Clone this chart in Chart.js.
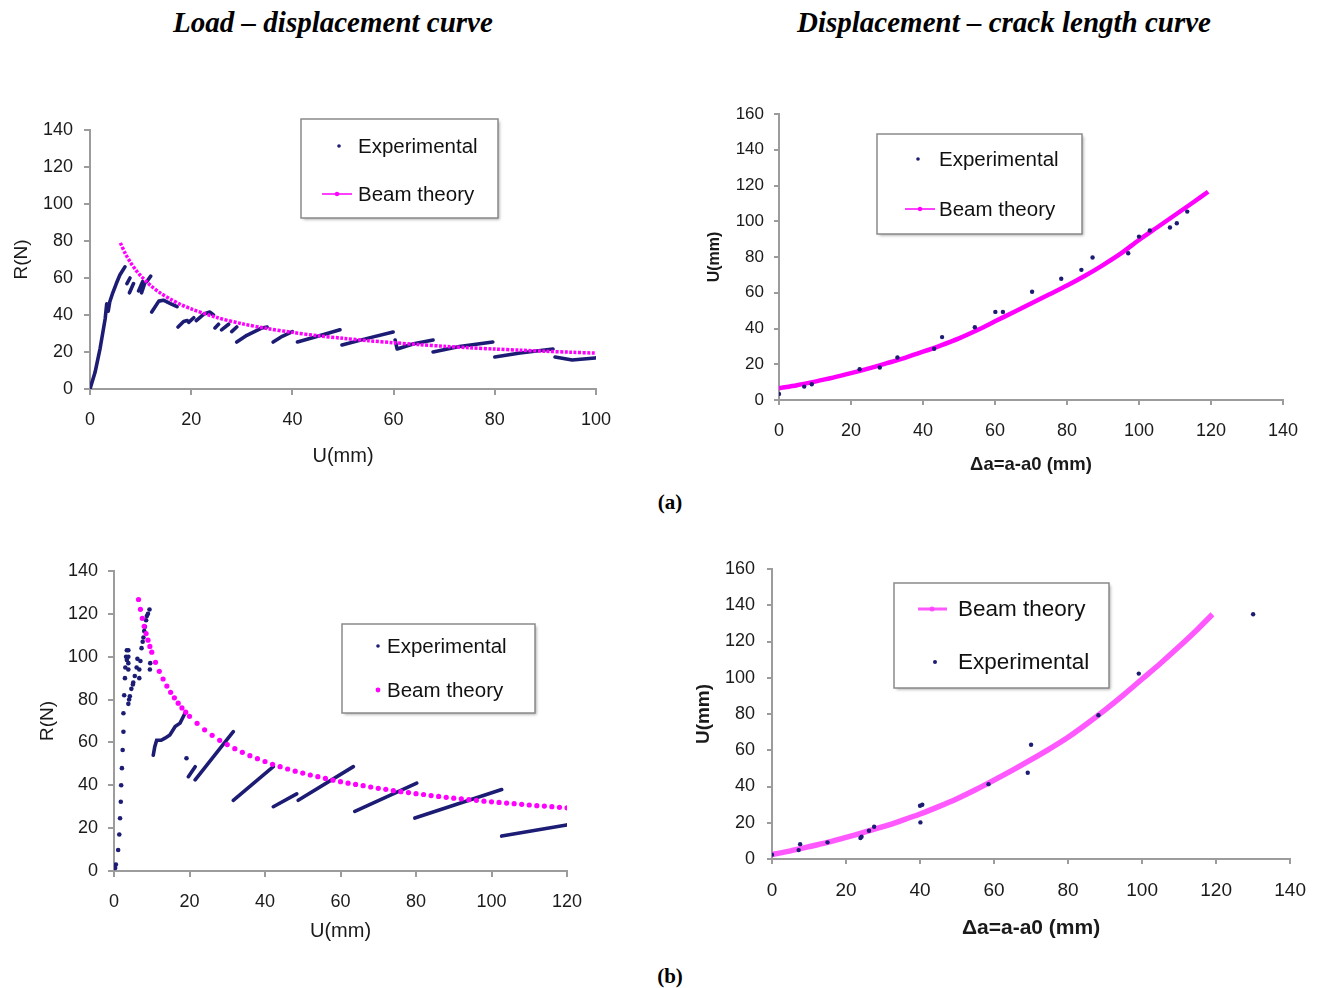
<!DOCTYPE html>
<html><head><meta charset="utf-8">
<script src="https://cdn.jsdelivr.net/npm/chart.js@4.4.1/dist/chart.umd.min.js"></script>
<style>
html,body{margin:0;padding:0;background:#fff;}
#page{position:relative;width:1321px;height:988px;overflow:hidden;background:#fff;}
canvas{position:absolute;}
.ttl{position:absolute;font-family:"Liberation Serif",serif;font-weight:bold;font-style:italic;font-size:29px;white-space:nowrap;transform:translate(-50%,-50%);color:#000;}
.lab{position:absolute;font-family:"Liberation Serif",serif;font-weight:bold;font-size:21px;white-space:nowrap;transform:translate(-50%,-50%);color:#000;}
</style></head>
<body><div id="page">
<div class="ttl" style="left:333px;top:22px">Load – displacement curve</div>
<div class="ttl" style="left:1004px;top:22px">Displacement – crack length curve</div>
<div class="lab" style="left:670px;top:502px">(a)</div>
<div class="lab" style="left:670px;top:976px">(b)</div>
<canvas id="aL" width="650" height="390" style="left:0px;top:95px;width:650px;height:390px"></canvas>
<canvas id="aR" width="641" height="410" style="left:680px;top:80px;width:641px;height:410px"></canvas>
<canvas id="bL" width="650" height="430" style="left:0px;top:530px;width:650px;height:430px"></canvas>
<canvas id="bR" width="651" height="430" style="left:670px;top:530px;width:651px;height:430px"></canvas>
</div>
<script>
// ---------- DATA ----------
// (a) left: load R(N) vs displacement U(mm)
const aL_xTicks = [0, 20, 40, 60, 80, 100];
const aL_yTicks = [0, 20, 40, 60, 80, 100, 120, 140];
const aL_expU = [0,1,2,3,3.3,3.6,3.9,4.5,5.2,5.9,6.9, null,
  7.3,7.9, null, 7.8,8.6, null, 9.6,10.4, null, 10.2,10.8, null, 11.2,12.0, null,
  12.2,13.6,14.5,16.0,17.2, null,
  17.4,18.5,19.2, null, 19.5,20.5, null, 21.0,22.5,23.7,24.4, null,
  24.7,25.4, null, 26.0,27.4, null, 28.0,29.0, null,
  29.0,31.0,34.0,35.0, null,
  36.2,38.0,40.0, null,
  41.0,45.0,49.4, null,
  49.8,55.0,59.9, null,
  60.3,60.7,64.0,67.8, null,
  67.8,73.0,79.6, null,
  80.0,85.0,91.5, null,
  91.9,95.3,99.8];
const aL_expR = [0,9,22,38,46,42,47,52,57,61.6,66, null,
  57,60, null, 52,57, null, 53,58, null, 52,57, null, 58,61, null,
  41.6,47.5,48,46,44.5, null,
  33.5,36.5,37, null, 36,38.5, null, 37,40.5,41.6,40, null,
  33,35, null, 32,35, null, 31,33.5, null,
  25.4,29,33,33.5, null,
  25.4,28.5,31, null,
  25.4,28.5,32, null,
  23.8,27.5,30.8, null,
  26.5,21.6,24.5,26.5, null,
  20,23,25.4, null,
  17.3,19.5,21.6, null,
  17.3,15.7,16.8];
const aL_beamU = [6,7,8,9,10,12,14,16,18,20,25,30,35,40,45,50,55,60,65,70,75,80,85,90,95,100];
const aL_beamR = [79,73.1,68.4,64.5,61.2,55.9,51.7,48.4,45.6,43.3,38.7,35.3,32.7,30.6,28.8,27.4,26.1,25,24,23.1,22.3,21.6,21,20.4,19.9,19.4];

// (a) right: displacement U(mm) vs crack extension Δa(mm)
const aR_xTicks = [0, 20, 40, 60, 80, 100, 120, 140];
const aR_yTicks = [0, 20, 40, 60, 80, 100, 120, 140, 160];
const aR_expDa = [0,7,9.1,22.4,28,32.9,43.1,45.3,54.4,60.1,62.2,70.3,78.4,84,87.1,97,100,103,108.6,110.5,113.4];
const aR_expU  = [3.4,7.5,8.8,17.2,18.2,23.8,28.7,35.2,40.7,49.3,49.3,60.6,67.8,72.8,79.7,82.1,91.4,94.8,96.5,98.9,105.4];
const aR_beamDa = [0,5,10,15,20,25,30,35,40,45,50,55,60,65,70,75,80,85,90,95,100,105,110,115,119.2];
const aR_beamU  = [6.6,8.3,10.3,12.5,15.0,17.7,20.6,23.6,27.0,30.6,34.5,39.0,44.0,49.0,54.0,59.0,64.0,69.5,75.5,82.0,89.5,96.5,103.5,110.5,116.5];

// (b) left: load R(N) vs displacement U(mm)
const bL_xTicks = [0, 20, 40, 60, 80, 100, 120];
const bL_yTicks = [0, 20, 40, 60, 80, 100, 120, 140];
const bL_dotU = [0.3,0.5,1.1,1.4,1.6,1.8,1.9,2.1,2.3,2.5,2.5,2.7,2.9,3.0,3.2,3.4,3.4,
  3.8,3.8,3.8,3.8,
  3.8,4.0,4.2,4.6,5.0,5.1,5.5,6.0,6.2,
  6.7,6.7,7.0,7.3,7.6,7.8,8.0,8.2,8.5,8.7,9.0,9.4,
  9.5,9.6, 19.2];
const bL_dotR = [1.4,3,9.8,17,24.6,32.3,40,48,56.5,65,73.6,82,90,95,100,103,98.5,
  94,97,100,103,
  78,80,81.5,85,87,88,91,95,99,
  90,94,98,104,107,109,112,114,117,119,120,122,
  94,97, 52.6];
const bL_segU = [10.4,10.8,11.3,12.5,13.5,14.8,16.2,17.5,18.8, null, 19.7,21.5, null, 21.5,31.6, null,
  31.6,42.2, null, 42.2,48.4, null, 48.8,63.4, null, 63.8,80.2, null, 79.7,102.7, null, 102.7,119.9];
const bL_segR = [54,58,61,61,62,63.5,67.4,69,73.6, null, 44,48.7, null, 42.5,65, null,
  33,48.7, null, 30,36, null, 33,48.7, null, 27.8,41, null, 24.7,38, null, 16.3,21.5];
const bL_beamU = [6.5,7,7.5,8,8.5,9,9.5,10,11,12,13,14,15,16,17,18,19,20,22,24,26,28,30,32,34,36,38,40,42,44,46,48,50,
  52,54,56,58,60,62,64,66,68,70,72,74,76,78,80,82,84,86,88,90,92,94,96,98,100,102,104,106,108,110,112,114,116,118,120];
const bL_beamR = [126.7,122.1,117.9,114.2,110.8,107.7,104.8,102.1,97.4,93.2,89.6,86.3,83.4,80.8,78.3,76.1,74.1,72.2,68.9,65.9,63.3,61.0,59.0,57.1,55.4,53.8,52.4,51.1,49.8,48.7,47.6,46.6,45.7,
  44.8,44.0,43.2,42.4,41.7,41.0,40.4,39.8,39.2,38.6,38.1,37.5,37.0,36.6,36.1,35.7,35.2,34.8,34.4,34.0,33.7,33.3,33.0,32.6,32.3,32.0,31.7,31.4,31.1,30.8,30.5,30.3,30.0,29.7,29.5];

// (b) right: displacement U(mm) vs crack extension Δa(mm)
const bR_xTicks = [0, 20, 40, 60, 80, 100, 120, 140];
const bR_yTicks = [0, 20, 40, 60, 80, 100, 120, 140, 160];
const bR_expDa = [0,7.2,7.6,15,23.9,24.2,26.2,27.6,40,40.6,40.1,58.5,69.1,70,88.2,99.1,130];
const bR_expU  = [2.4,4.9,8.2,9.2,11.6,12.3,15.6,17.8,29.4,29.9,20.2,41.3,47.6,63,79.3,102.3,135];
const bR_beamDa = [0,5,10,15,20,25,30,35,40,45,50,55,60,65,70,75,80,85,90,95,100,105,110,115,119];
const bR_beamU  = [2.5,4.5,6.8,9.2,11.9,14.8,17.8,21.2,24.8,28.9,33.3,38.2,43.5,49,54.8,60.8,67.2,74.5,82.3,90.6,99.3,108,117.2,126.8,135];

// ---------- RENDER ----------
const FONT = '"Liberation Sans", Arial, sans-serif';
const NAVY = '#1c1c74';
const MAG = '#ff00ff';
const PINK = 'rgba(255,70,255,0.9)';
const AX = '#9c9c9c';
const TXT = '#1a1a1a';

function xy(us, vs) { return us.map((u, i) => ({ x: u, y: vs[i] })); }

function axis(o) {
  return {
    type: 'linear', min: o.ticks[0], max: o.ticks[o.ticks.length - 1],
    afterBuildTicks: s => { s.ticks = o.ticks.map(v => ({ value: v })); },
    afterFit: s => { if (o.w) s.width = o.w; if (o.h) s.height = o.h; },
    grid: { drawOnChartArea: false, drawTicks: true, tickLength: o.tl, color: AX, lineWidth: 2 },
    border: { display: true, color: AX, width: 2 },
    ticks: { padding: o.pad, color: TXT, font: { family: FONT, size: o.fs }, maxRotation: 0, autoSkip: false },
    title: { display: true, text: o.title, color: TXT, padding: 0,
             font: { family: FONT, size: o.tfs, weight: o.bold ? 'bold' : 'normal' } }
  };
}

function legendPlugin(cfg) {
  return {
    id: 'boxLegend',
    afterDatasetsDraw(chart) {
      const c = chart.ctx;
      c.save();
      c.shadowColor = 'rgba(0,0,0,0.35)'; c.shadowBlur = 3; c.shadowOffsetX = 1.5; c.shadowOffsetY = 1.5;
      c.fillStyle = '#fff'; c.fillRect(cfg.x, cfg.y, cfg.w, cfg.h);
      c.shadowColor = 'rgba(0,0,0,0)';
      c.lineWidth = 1.5; c.strokeStyle = '#8a8a8a'; c.strokeRect(cfg.x, cfg.y, cfg.w, cfg.h);
      c.font = cfg.size + 'px ' + FONT; c.textBaseline = 'middle'; c.textAlign = 'left';
      for (const it of cfg.items) {
        const ds = chart.data.datasets[it.ds];
        if (it.line) {
          c.strokeStyle = it.color; c.lineWidth = it.lw || 2;
          c.beginPath(); c.moveTo(it.line[0], it.my); c.lineTo(it.line[1], it.my); c.stroke();
        }
        c.fillStyle = it.color; c.beginPath(); c.arc(it.mx, it.my, it.r, 0, Math.PI * 2); c.fill();
        c.fillStyle = '#111'; c.fillText(ds.label, it.tx, it.my + 1);
      }
      c.restore();
    }
  };
}

function make(id, datasets, scales, padding, leg) {
  return new Chart(document.getElementById(id), {
    type: 'scatter',
    data: { datasets },
    options: {
      responsive: false, animation: false, devicePixelRatio: 1,
      layout: { padding, autoPadding: false },
      plugins: { legend: { display: false }, tooltip: { enabled: false }, title: { display: false } },
      scales
    },
    plugins: [legendPlugin(leg)]
  });
}

// (a) left
make('aL', [
  { label: 'Experimental', data: xy(aL_expU, aL_expR), showLine: true, spanGaps: false, order: 1,
    borderColor: NAVY, borderWidth: 3.6, pointRadius: 0, borderCapStyle: 'round', borderJoinStyle: 'round' },
  { label: 'Beam theory', data: xy(aL_beamU, aL_beamR), showLine: true, order: 0, tension: 0.3,
    borderColor: MAG, borderWidth: 3.5, borderDash: [3, 1.5], pointRadius: 0 }
], {
  x: axis({ ticks: aL_xTicks, h: 79, tl: 6, pad: 14, fs: 18, title: 'U(mm)', tfs: 20 }),
  y: axis({ ticks: aL_yTicks, w: 80, tl: 6, pad: 11, fs: 18, title: 'R(N)', tfs: 19 })
}, { left: 10, right: 54, top: 35, bottom: 17 }, {
  x: 301, y: 24, w: 197, h: 99, size: 20.5, items: [
    { ds: 0, color: NAVY, mx: 339, my: 51, r: 1.8, tx: 358 },
    { ds: 1, color: MAG, mx: 337, my: 99, r: 2.2, tx: 358, line: [322, 352], lw: 1.5 }
  ]
});

// (a) right
make('aR', [
  { label: 'Experimental', data: xy(aR_expDa, aR_expU), order: 0,
    backgroundColor: NAVY, borderColor: NAVY, borderWidth: 0, pointRadius: 2.2 },
  { label: 'Beam theory', data: xy(aR_beamDa, aR_beamU), showLine: true, order: 1, tension: 0.3,
    borderColor: MAG, borderWidth: 4.5, pointRadius: 0 }
], {
  x: axis({ ticks: aR_xTicks, h: 76, tl: 5, pad: 15, fs: 18, title: 'Δa=a-a0 (mm)', tfs: 18.5, bold: true }),
  y: axis({ ticks: aR_yTicks, w: 74, tl: 5, pad: 10, fs: 17, title: 'U(mm)', tfs: 16, bold: true })
}, { left: 25, right: 38, top: 34, bottom: 14 }, {
  x: 197, y: 54, w: 205, h: 100, size: 20.5, items: [
    { ds: 0, color: NAVY, mx: 238, my: 79, r: 1.8, tx: 259 },
    { ds: 1, color: MAG, mx: 240, my: 129, r: 2.2, tx: 259, line: [225, 255], lw: 1.5 }
  ]
});

// (b) left
make('bL', [
  { label: 'Experimental', data: xy(bL_dotU, bL_dotR), order: 1,
    backgroundColor: NAVY, borderWidth: 0, pointRadius: 2.3 },
  { label: 'Beam theory', data: xy(bL_beamU, bL_beamR), order: 0,
    backgroundColor: MAG, borderWidth: 0, pointRadius: 2.6 },
  { label: 'Experimental', data: xy(bL_segU, bL_segR), showLine: true, spanGaps: false, order: 2,
    borderColor: NAVY, borderWidth: 3.6, pointRadius: 0, borderCapStyle: 'round' }
], {
  x: axis({ ticks: bL_xTicks, h: 72, tl: 6, pad: 14, fs: 18, title: 'U(mm)', tfs: 20 }),
  y: axis({ ticks: bL_yTicks, w: 78, tl: 6, pad: 10, fs: 18, title: 'R(N)', tfs: 19 })
}, { left: 36, right: 83, top: 41, bottom: 17 }, {
  x: 342, y: 94, w: 193, h: 89, size: 20.5, items: [
    { ds: 0, color: NAVY, mx: 378, my: 116, r: 1.8, tx: 387 },
    { ds: 1, color: MAG, mx: 378, my: 160, r: 2.4, tx: 387 }
  ]
});

// (b) right
make('bR', [
  { label: 'Beam theory', data: xy(bR_beamDa, bR_beamU), showLine: true, order: 1, tension: 0.3,
    borderColor: PINK, borderWidth: 5.5, pointRadius: 0 },
  { label: 'Experimental', data: xy(bR_expDa, bR_expU), order: 0,
    backgroundColor: NAVY, borderWidth: 0, pointRadius: 2.2 }
], {
  x: axis({ ticks: bR_xTicks, h: 82, tl: 5, pad: 15, fs: 19, title: 'Δa=a-a0 (mm)', tfs: 21, bold: true }),
  y: axis({ ticks: bR_yTicks, w: 80, tl: 5, pad: 12, fs: 18, title: 'U(mm)', tfs: 19, bold: true })
}, { left: 22, right: 28, top: 39, bottom: 19 }, {
  x: 224, y: 53, w: 215, h: 105, size: 22.5, items: [
    { ds: 0, color: PINK, mx: 262, my: 79, r: 2.5, tx: 288, line: [248, 277], lw: 3 },
    { ds: 1, color: NAVY, mx: 265, my: 132, r: 2, tx: 288 }
  ]
});
</script>
</body></html>
